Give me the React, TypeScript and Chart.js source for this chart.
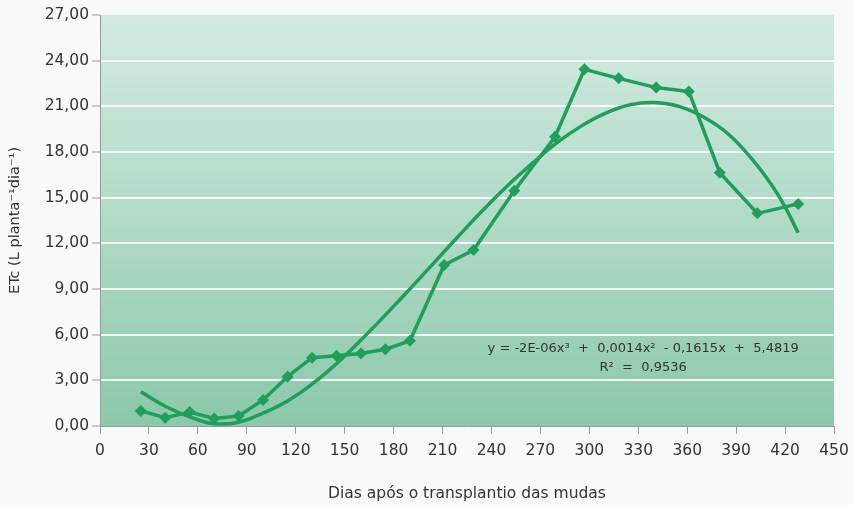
import React, { useEffect, useRef } from "react";
import { Chart, registerables } from "chart.js";

Chart.register(...registerables);

// Observed ETc values
const obsDays = [25, 40, 55, 70, 85, 100, 115, 130, 145, 160, 175, 190, 211, 229, 254, 279, 297, 318, 341, 361, 380, 403, 428];
const obsEtc = [0.99, 0.55, 0.92, 0.5, 0.66, 1.71, 3.24, 4.49, 4.62, 4.77, 5.04, 5.6, 10.58, 11.56, 15.46, 19.0, 23.43, 22.84, 22.23, 21.97, 16.64, 13.97, 14.59];

// Polynomial trend line
const trendDays = [25, 40, 55, 70, 85, 100, 115, 130, 145, 160, 175, 190, 205, 220, 235, 250, 265, 280, 295, 310, 325, 340, 355, 370, 385, 400, 412, 420, 428];
const trendEtc = [2.25, 1.3, 0.6, 0.15, 0.25, 0.85, 1.65, 2.75, 4.1, 5.65, 7.3, 9.0, 10.75, 12.5, 14.2, 15.8, 17.25, 18.6, 19.7, 20.55, 21.1, 21.25, 21.0, 20.3, 19.2, 17.5, 15.8, 14.4, 12.7];

const equationText = "y = -2E-06x³  +  0,0014x²  - 0,1615x  +  5,4819";
const r2Text = "R²  =  0,9536";
const eqX = 333;
const eqY = 5.1;
const r2Y = 3.85;

const xTitle = "Dias após o transplantio das mudas";
const yTitle = "ETc (L planta⁻¹dia⁻¹)";

const GREEN = "#1f9f5a";
const FONT = "'DejaVu Sans', sans-serif";

export default function App() {
  const ref = useRef<HTMLCanvasElement | null>(null);

  useEffect(() => {
    const canvas = ref.current;
    if (!canvas) return;

    const bgPlugin = {
      id: "bgPlugin",
      beforeDraw(chart: any) {
        const { ctx, chartArea } = chart;
        ctx.save();
        ctx.fillStyle = "#f8f9f9";
        ctx.fillRect(0, 0, chart.width, chart.height);
        const g = ctx.createLinearGradient(0, chartArea.top, 0, chartArea.bottom);
        g.addColorStop(0, "#d2eae0");
        g.addColorStop(0.5, "#b1dbc7");
        g.addColorStop(1, "#8cc8aa");
        ctx.fillStyle = g;
        ctx.fillRect(chartArea.left, chartArea.top, chartArea.right - chartArea.left, chartArea.bottom - chartArea.top);
        ctx.restore();
      },
    };

    const eqPlugin = {
      id: "eqPlugin",
      afterDatasetsDraw(chart: any) {
        const { ctx, scales } = chart;
        const px = scales.x.getPixelForValue(eqX);
        ctx.save();
        ctx.fillStyle = "#333";
        ctx.font = `13px ${FONT}`;
        ctx.textAlign = "center";
        ctx.textBaseline = "middle";
        ctx.fillText(equationText, px, scales.y.getPixelForValue(eqY));
        ctx.fillText(r2Text, px, scales.y.getPixelForValue(r2Y));
        ctx.restore();
      },
    };

    const chart = new Chart(canvas, {
      type: "scatter",
      data: {
        datasets: [
          {
            label: "ETc",
            data: obsDays.map((d, i) => ({ x: d, y: obsEtc[i] })),
            showLine: true,
            borderColor: GREEN,
            backgroundColor: GREEN,
            borderWidth: 3.5,
            pointStyle: "rectRot",
            pointRadius: 6,
            pointBorderWidth: 0,
            tension: 0,
          },
          {
            label: "Tendência",
            data: trendDays.map((d, i) => ({ x: d, y: trendEtc[i] })),
            showLine: true,
            borderColor: GREEN,
            backgroundColor: GREEN,
            borderWidth: 3.5,
            pointRadius: 0,
            tension: 0.4,
          },
        ],
      },
      options: {
        responsive: false,
        animation: false,
        layout: { padding: { left: 0, top: 15, right: 20, bottom: 0 } },
        plugins: { legend: { display: false }, tooltip: { enabled: false } },
        scales: {
          x: {
            type: "linear",
            min: 0,
            max: 450,
            ticks: { stepSize: 30, color: "#333", font: { family: FONT, size: 15.5 }, padding: 8, maxRotation: 0 },
            grid: { drawOnChartArea: false, drawTicks: true, tickLength: 8, tickColor: "#999" },
            border: { display: true, color: "#999", width: 1 },
            title: { display: true, text: xTitle, color: "#333", font: { family: FONT, size: 15.5 }, padding: { top: 0, bottom: 2 } },
            afterFit(scale: any) {
              scale.height = 79;
              scale.paddingRight = 0;
              scale.paddingLeft = 0;
            },
          },
          y: {
            type: "linear",
            min: 0,
            max: 27,
            ticks: {
              stepSize: 3,
              color: "#333",
              font: { family: FONT, size: 15.5 },
              padding: 3,
              callback: (v: any) => Number(v).toFixed(2).replace(".", ","),
            },
            grid: {
              color: (c: any) => (c.tick && (c.tick.value === 0 || c.tick.value === 27) ? "rgba(0,0,0,0)" : "rgba(255,255,255,0.9)"),
              lineWidth: 2,
              tickLength: 8,
              tickColor: "#999",
              tickWidth: 1,
            },
            border: { display: true, color: "#999", width: 1 },
            title: { display: true, text: yTitle, color: "#333", font: { family: FONT, size: 14.5 }, padding: { top: 7, bottom: 0 } },
            afterFit(scale: any) {
              scale.width = 100;
            },
          },
        },
      },
      plugins: [bgPlugin, eqPlugin],
    } as any);

    return () => chart.destroy();
  }, []);

  return (
    <div style={{ position: "fixed", left: 0, top: 0, width: 854, height: 505 }}>
      <canvas ref={ref} width={854} height={505} />
    </div>
  );
}
